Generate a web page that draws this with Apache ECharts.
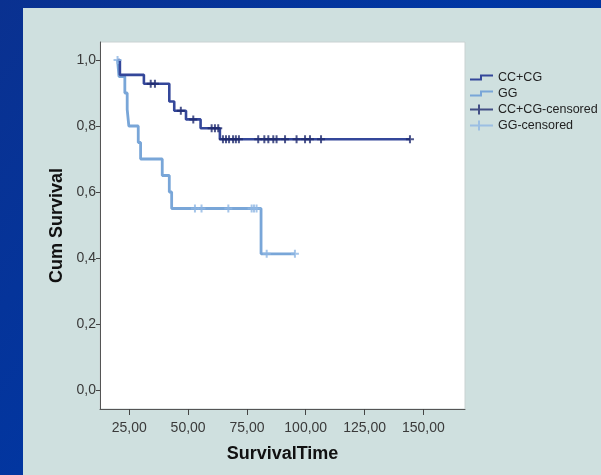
<!DOCTYPE html>
<html>
<head>
<meta charset="utf-8">
<script src="https://cdn.jsdelivr.net/npm/echarts@6/dist/echarts.min.js"></script>
<style>html,body{margin:0;padding:0;}#c{width:601px;height:475px;}</style>
</head>
<body>
<div id="c"></div>
<script>
// Step points (time, cumulative survival)
const ccTimes = [20, 21.0, 31.2, 42.0, 44.1, 49.1, 55.3, 63.5, 144.3];
const ccSurv  = [1.0, 0.955, 0.928, 0.874, 0.846, 0.820, 0.793, 0.760, 0.760];
const ccCensorTimes = [34.1, 35.9, 46.9, 52.2, 60.0, 61.4, 62.8, 64.8, 66.1, 67.4, 69.1, 70.3, 71.6, 79.8, 82.4, 84.1, 86.2, 87.6, 91.2, 96.1, 99.7, 101.8, 106.5, 144.3];
const ccCensorSurv  = [0.928, 0.928, 0.846, 0.820, 0.793, 0.793, 0.793, 0.760, 0.760, 0.760, 0.760, 0.760, 0.760, 0.760, 0.760, 0.760, 0.760, 0.760, 0.760, 0.760, 0.760, 0.760, 0.760, 0.760];

const ggTimes = [20, 20.6, 23.1, 24.1, 24.8, 28.8, 29.8, 39.0, 42.0, 43.0, 81.0, 95.4];
const ggSurv  = [1.0, 0.95, 0.90, 0.85, 0.80, 0.75, 0.70, 0.65, 0.60, 0.55, 0.4125, 0.4125];
const ggCensorTimes = [20.0, 52.9, 55.7, 67.1, 77.0, 78.0, 79.1, 83.4, 95.4];
const ggCensorSurv  = [1.0, 0.55, 0.55, 0.55, 0.55, 0.55, 0.55, 0.4125, 0.4125];

const xTicks = [25, 50, 75, 100, 125, 150];
const yTicks = [0, 0.2, 0.4, 0.6, 0.8, 1.0];

const names = ['CC+CG', 'GG', 'CC+CG-censored', 'GG-censored'];
const colors = { cc: '#34479a', gg: '#79a6d8', ccC: '#1f2a6e', ggC: '#8fb7e3' };

const zip = (a, b) => a.map((v, i) => [v, b[i]]);

const stepIcon = 'path://M0,0h0.05v0.05h-0.05Z M22.95,9.95h0.05v0.05h-0.05Z M0,6H10V2H23V4H12V8H0Z';
const crossIcon = 'path://M0,4.1H8V0H10V4.1H23V5.9H10V10H8V5.9H0Z';
const plusMark = 'path://M3,0H5V3H8V5H5V8H3V5H0V3H3Z';

const font = 'Liberation Sans, Arial, sans-serif';

const chart = echarts.init(document.getElementById('c'), null, { renderer: 'canvas' });
chart.setOption({
  animation: false,
  backgroundColor: {
    type: 'linear', x: 0, y: 0, x2: 1, y2: 1,
    colorStops: [{ offset: 0, color: '#0a3190' }, { offset: 0.5, color: '#0037a4' }, { offset: 1, color: '#0a3190' }]
  },
  graphic: [{
    type: 'rect', z: -10, silent: true,
    shape: { x: 23, y: 8, width: 578, height: 467 },
    style: { fill: '#cfe0df' }
  }],
  grid: {
    left: 100, top: 42, right: 136, bottom: 66,
    show: true, backgroundColor: '#ffffff', borderColor: '#c9d2d2', borderWidth: 1
  },
  legend: {
    orient: 'vertical', left: 465, top: 66, itemWidth: 23, itemHeight: 10, itemGap: 3,
    textStyle: { fontFamily: font, fontSize: 12.5, color: '#222' },
    data: [
      { name: names[0], icon: stepIcon, itemStyle: { color: colors.cc } },
      { name: names[1], icon: stepIcon, itemStyle: { color: colors.gg } },
      { name: names[2], icon: crossIcon, itemStyle: { color: colors.ccC } },
      { name: names[3], icon: crossIcon, itemStyle: { color: colors.ggC } }
    ]
  },
  xAxis: {
    type: 'value', min: 12.54, max: 167.7,
    name: 'SurvivalTime', nameLocation: 'middle', nameGap: 36,
    nameTextStyle: { fontFamily: font, fontSize: 18, fontWeight: 'bold', color: '#111' },
    axisLine: { show: true, onZero: false, lineStyle: { color: '#555', width: 1 } },
    axisTick: { show: true, length: 6, customValues: xTicks, lineStyle: { color: '#444' } },
    axisLabel: {
      customValues: xTicks, margin: 12,
      fontFamily: font, fontSize: 14, color: '#3a3a3a',
      formatter: v => v.toFixed(2).replace('.', ',')
    },
    splitLine: { show: false }
  },
  yAxis: {
    type: 'value', min: -0.0576, max: 1.0545,
    name: 'Cum Survival', nameLocation: 'middle', nameGap: 27, nameRotate: 90,
    nameTextStyle: { fontFamily: font, fontSize: 18, fontWeight: 'bold', color: '#111' },
    axisLine: { show: true, onZero: false, lineStyle: { color: '#555', width: 1 } },
    axisTick: { show: true, length: 4, customValues: yTicks, lineStyle: { color: '#444' } },
    axisLabel: {
      customValues: yTicks, margin: 4,
      fontFamily: font, fontSize: 14, color: '#3a3a3a',
      formatter: v => v.toFixed(1).replace('.', ',')
    },
    splitLine: { show: false }
  },
  series: [
    {
      name: names[1], type: 'line', step: 'end', showSymbol: false, z: 2,
      data: zip(ggTimes, ggSurv),
      lineStyle: { color: colors.gg, width: 2.8 }, itemStyle: { color: colors.gg }
    },
    {
      name: names[0], type: 'line', step: 'end', showSymbol: false, z: 3,
      data: zip(ccTimes, ccSurv),
      lineStyle: { color: colors.cc, width: 2.6 }, itemStyle: { color: colors.cc }
    },
    {
      name: names[3], type: 'scatter', symbol: plusMark, symbolSize: 8, z: 4,
      data: zip(ggCensorTimes, ggCensorSurv),
      itemStyle: { color: colors.ggC }
    },
    {
      name: names[2], type: 'scatter', symbol: plusMark, symbolSize: 8, z: 5,
      data: zip(ccCensorTimes, ccCensorSurv),
      itemStyle: { color: colors.ccC }
    }
  ]
});
</script>
</body>
</html>
